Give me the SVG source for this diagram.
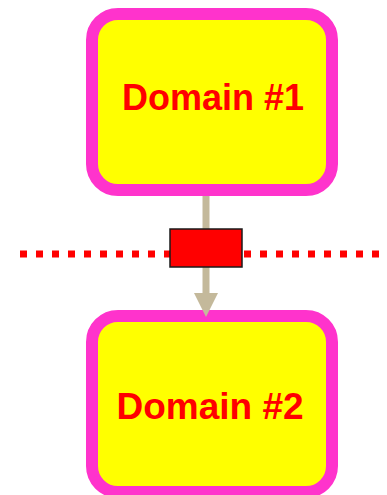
<svg xmlns="http://www.w3.org/2000/svg" width="387" height="495" viewBox="0 0 387 495">
  <style>
    .domain { fill: #FFFF00; stroke: #FF33CC; stroke-width: 12; }
    .label { font-family: "Liberation Sans", Arial, sans-serif; font-weight: bold; fill: #FF0000; text-anchor: middle; }
    .link { stroke: #C4B99B; stroke-width: 7; fill: none; }
    .boundary { stroke: #FF0000; stroke-width: 7; stroke-dasharray: 7 9; fill: none; }
    .gate { fill: #FF0000; stroke: #1a1a1a; stroke-width: 1.5; }
  </style>
  <defs>
    <!-- tan arrowhead, tip at the end of the path -->
    <marker id="arrow" markerUnits="userSpaceOnUse" markerWidth="24" markerHeight="24" refX="12" refY="0" orient="auto" viewBox="0 -12 24 24" overflow="visible">
      <path d="M0,-12 L0,12 L24,0 Z" transform="translate(0,0)" fill="#C4B99B"/>
    </marker>
  </defs>

  <g id="domain1">
    <rect class="domain" x="92" y="14" width="240" height="176" rx="26" ry="26"/>
    <text class="label" x="213" y="110" font-size="36">Domain #1</text>
  </g>

  <g id="domain2">
    <rect class="domain" x="92" y="316" width="240" height="176" rx="26" ry="26"/>
    <text class="label" x="210" y="419" font-size="37">Domain #2</text>
  </g>

  <g id="connectors">
    <line class="link" x1="206" y1="196" x2="206" y2="305" marker-end="url(#arrow)"/>
    <line class="boundary" x1="20" y1="254" x2="384" y2="254"/>
  </g>

  <g id="gate">
    <rect class="gate" x="170" y="229" width="72" height="38"/>
  </g>
</svg>
